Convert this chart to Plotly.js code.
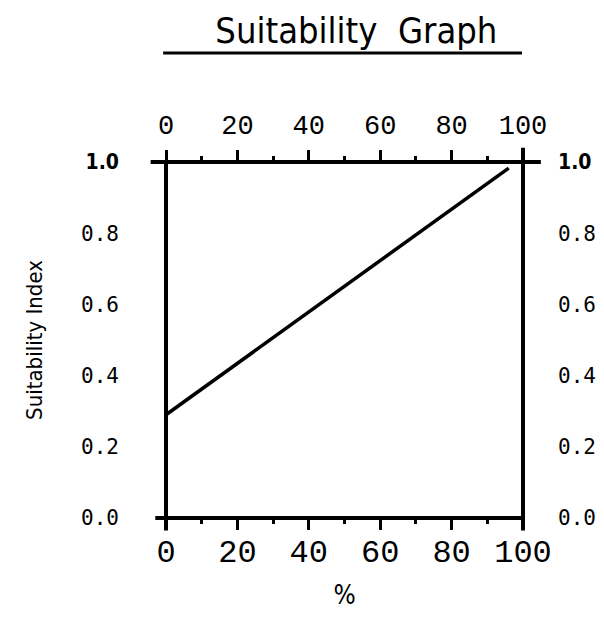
<!DOCTYPE html>
<html><head><meta charset="utf-8">
<script src="https://cdn.plot.ly/plotly-3.0.1.min.js"></script>
<style>body{margin:0;background:#fff}</style>
</head><body>
<div id="chart" style="width:604px;height:635px"></div>
<script>
const percent = [0, 96];
const suitability = [0.29, 0.983];
const xTickVals = [0, 20, 40, 60, 80, 100];
const xTickText = ['0', '20', '40', '60', '80', '100'];
const xMinorVals = [10, 30, 50, 70, 90];
const yTickVals = [0, 0.2, 0.4, 0.6, 0.8, 1.0];
const yTickText = ['0.0', '0.2', '0.4', '0.6', '0.8', '<span style="font-family:DejaVu Sans Condensed;font-weight:bold">1.0</span>'];

const yFont = {family: 'DejaVu Sans Mono, monospace', size: 21, color: '#000'};
const xFamily = 'Liberation Mono, DejaVu Sans Mono, monospace';
const narrow = 'DejaVu Sans Condensed, Roboto, sans-serif';

const traces = [{
  x: percent, y: suitability, type: 'scatter', mode: 'lines',
  line: {color: '#000', width: 3.5}, hoverinfo: 'skip', showlegend: false
}];

const K = 'paper';
const shapes = [
  {type:'line', xref:K, yref:K, x0:-0.043, x1:1.05, y0:1, y1:1, line:{color:'#000', width:4}},
  {type:'line', xref:K, yref:K, x0:-0.03, x1:1.0, y0:0, y1:0, line:{color:'#000', width:4}},
  {type:'line', xref:K, yref:K, x0:0, x1:0, y0:-0.035, y1:1, line:{color:'#000', width:4}},
  {type:'line', xref:K, yref:K, x0:1, x1:1, y0:-0.035, y1:1.04, line:{color:'#000', width:4}},
  {type:'line', xref:K, yref:K, x0:-0.008, x1:0.997, y0:1.306, y1:1.306, line:{color:'#000', width:3}}
];

const layout = {
  width: 604, height: 635,
  margin: {l: 166, r: 81, t: 162, b: 117},
  paper_bgcolor: '#fff', plot_bgcolor: '#fff',
  title: {text: 'Suitability  Graph', x: 0.59, xanchor: 'center', y: 0.952, yanchor: 'middle',
          font: {family: narrow, size: 36, color: '#000'}},
  xaxis: {range: [0, 100], tickmode: 'array', tickvals: xTickVals, ticktext: xTickText,
          ticks: 'outside', ticklen: 11, tickwidth: 3, tickcolor: '#000',
          minor: {tickvals: xMinorVals, ticks: 'outside', ticklen: 5, tickwidth: 3, tickcolor: '#000'},
          showgrid: false, zeroline: false, showline: false, fixedrange: true,
          ticklabelstandoff: -6,
          tickfont: {family: xFamily, size: 32, color: '#000'},
          title: {text: '%', font: {family: narrow, size: 26, color: '#000'}, standoff: 14}},
  xaxis2: {range: [0, 100], overlaying: 'x', side: 'top', tickmode: 'array', tickvals: xTickVals, ticktext: xTickText,
          ticks: 'outside', ticklen: 11, tickwidth: 3, tickcolor: '#000',
          minor: {tickvals: xMinorVals, ticks: 'outside', ticklen: 5, tickwidth: 3, tickcolor: '#000'},
          showgrid: false, zeroline: false, showline: false, fixedrange: true,
          ticklabelstandoff: 5,
          tickfont: {family: xFamily, size: 27, color: '#000'}},
  yaxis: {range: [0, 1], tickmode: 'array', tickvals: yTickVals, ticktext: yTickText,
          ticks: '', ticklabelstandoff: 46, showgrid: false, zeroline: false, showline: false, fixedrange: true,
          tickfont: yFont,
          title: {text: 'Suitability Index', font: {family: narrow, size: 22, color: '#000'}, standoff: 32}},
  yaxis2: {range: [0, 1], overlaying: 'y', side: 'right', tickmode: 'array', tickvals: yTickVals, ticktext: yTickText,
          ticks: '', ticklabelstandoff: 34, showgrid: false, zeroline: false, showline: false, fixedrange: true,
          tickfont: yFont},
  shapes: shapes
};

traces.push({x: [0], y: [0], xaxis: 'x2', yaxis: 'y2', mode: 'markers', marker: {opacity: 0}, hoverinfo: 'skip', showlegend: false});
Plotly.newPlot('chart', traces, layout, {displayModeBar: false, staticPlot: true});
</script>
</body></html>
